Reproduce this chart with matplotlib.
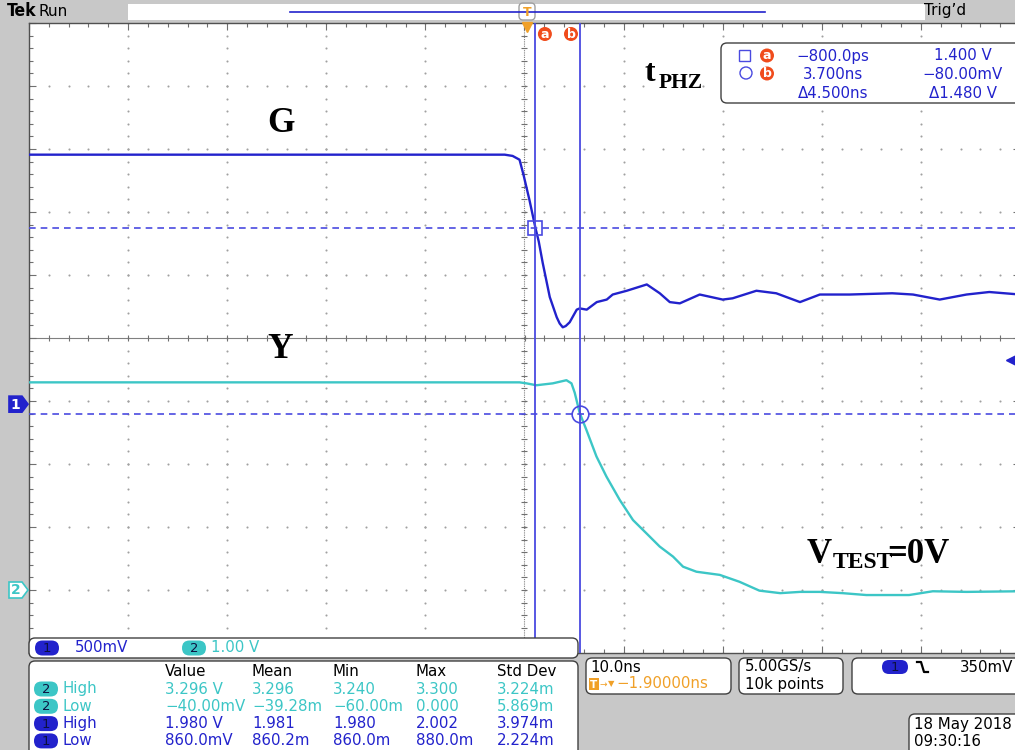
import numpy as np
import matplotlib
matplotlib.use("Agg")
import matplotlib.pyplot as plt
from matplotlib.patches import FancyBboxPatch, Rectangle, Circle, Polygon
from matplotlib.transforms import blended_transform_factory

W, H = 1015, 750
BG = "#c8c8c8"
CH1 = "#2222cc"
CH2 = "#3cc6c6"
CUR = "#4a4ae0"
ORANGE = "#f0a028"
CUR_TAG = "#f04c1c"
GRID = "#a0a0a0"
UI = "DejaVu Sans"
SERIF = "Liberation Serif"
FS = 10.8

# acquisition settings
TIME_PER_DIV = 10.0      # ns/div
H_DELAY = -1.9           # ns at screen centre
CH1_SCALE = 0.5          # V/div
CH2_SCALE = 1.0          # V/div
CH1_POS = -1.05          # div
CH2_POS = -4.0           # div
TRIG_LEVEL = 0.35        # V, falling edge on CH1

# CH1 (G) waveform, ns / V
g_time = [-51.9, -3.9, -3.1, -2.4, -2.0, -1.4, -0.8, -0.46, -0.06, 0.65,
          1.35, 1.65, 1.96, 2.26, 2.66, 3.37, 3.67, 4.38, 5.39, 6.40,
          7.0, 8.42, 10.44, 11.75, 12.76, 13.77, 15.78, 18.1, 19.1, 21.5,
          23.5, 25.9, 27.9, 30.9, 35.2, 37.3, 40.0, 42.7, 45.0, 48.1]
g_volt = [1.98, 1.98, 1.97, 1.94, 1.82, 1.62, 1.40, 1.29, 1.12, 0.85,
          0.69, 0.64, 0.61, 0.62, 0.65, 0.75, 0.76, 0.75, 0.81, 0.83,
          0.87, 0.90, 0.95, 0.88, 0.81, 0.80, 0.87, 0.83, 0.84, 0.90,
          0.88, 0.81, 0.87, 0.87, 0.88, 0.87, 0.83, 0.87, 0.89, 0.87]

# CH2 (Y) waveform, ns / V
y_time = [-51.9, -2.4, -1.7, -0.7, 0.95, 2.33, 2.84, 3.17, 3.67, 4.35,
          5.36, 6.37, 7.71, 9.05, 10.4, 11.74, 13.09, 14.1, 15.45, 17.8,
          19.8, 21.8, 23.9, 25.9, 27.9, 30.2, 32.6, 34.6, 36.9, 39.3,
          42.7, 48.1]
y_volt = [3.296, 3.296, 3.28, 3.25, 3.28, 3.33, 3.28, 3.13, 2.81, 2.54,
          2.12, 1.80, 1.43, 1.11, 0.90, 0.69, 0.53, 0.37, 0.29, 0.24,
          0.13, -0.01, -0.05, -0.03, -0.03, -0.05, -0.08, -0.08, -0.08, -0.02,
          -0.03, -0.02]

# cursors (a, b): time in ns, level in V on CH1
cursor_time = [-0.8, 3.7]
cursor_volt = [1.400, -0.080]

meas_header = ["Value", "Mean", "Min", "Max", "Std Dev"]
meas_channel = ["2", "2", "1", "1"]
meas_kind = ["High", "Low", "High", "Low"]
meas_values = [
    ["3.296 V", "3.296", "3.240", "3.300", "3.224m"],
    ["\u221240.00mV", "\u221239.28m", "\u221260.00m", "0.000", "5.869m"],
    ["1.980 V", "1.981", "1.980", "2.002", "3.974m"],
    ["860.0mV", "860.2m", "860.0m", "880.0m", "2.224m"],
]

fig = plt.figure(figsize=(W / 100, H / 100), dpi=100, facecolor=BG)

# ---- graticule: 10 x 10 divisions ----
GX0, GX1, GY0, GY1 = 29, 1020, 23, 653
ax = fig.add_axes([GX0 / W, 1 - GY1 / H, (GX1 - GX0) / W, (GY1 - GY0) / H])
t0 = H_DELAY - 5 * TIME_PER_DIV
t1 = H_DELAY + 5 * TIME_PER_DIV
ax.set_xlim(t0, t1)
ax.set_ylim(-5, 5)
ax.set_facecolor("white")

major_t = H_DELAY + TIME_PER_DIV * np.arange(-5, 6)
minor_t = H_DELAY + TIME_PER_DIV * np.arange(-5, 5.001, 0.2)
minor_d = np.arange(-5, 5.001, 0.2)
ax.set_xticks(major_t)
ax.set_xticks(minor_t, minor=True)
ax.set_yticks(np.arange(-5, 6))
ax.set_yticks(minor_d, minor=True)
ax.tick_params(which="both", direction="in", top=True, right=True,
               labelbottom=False, labelleft=False, color="#707070", width=0.8)
ax.tick_params(which="major", length=5)
ax.tick_params(which="minor", length=3)
for s in ax.spines.values():
    s.set_color("#505050")
    s.set_linewidth(1.0)

for k in range(-4, 5):
    if k == 0:
        continue
    tk = H_DELAY + k * TIME_PER_DIV
    ax.plot(np.full(minor_d.size, tk), minor_d, ls="none", marker="o",
            ms=1.5, mew=0, color=GRID, zorder=1)
    ax.plot(minor_t, np.full(minor_t.size, k), ls="none", marker="o",
            ms=1.5, mew=0, color=GRID, zorder=1)

ax.axhline(0, color="#808080", lw=0.8, zorder=1)
ax.axvline(H_DELAY, color="#808080", lw=0.8, ls=(0, (1, 1)), zorder=1)
ax.plot(minor_t, np.zeros_like(minor_t), ls="none", marker="|", ms=5,
        mew=0.8, color="#707070", zorder=1)
ax.plot(np.full(minor_d.size, H_DELAY), minor_d, ls="none", marker="_",
        ms=5, mew=0.8, color="#707070", zorder=1)

# ---- waveforms ----
g_div = np.array(g_volt) / CH1_SCALE + CH1_POS
y_div = np.array(y_volt) / CH2_SCALE + CH2_POS
ax.plot(y_time, y_div, color=CH2, lw=1.7, zorder=4, solid_joinstyle="round")
ax.plot(g_time, g_div, color=CH1, lw=1.7, zorder=5, solid_joinstyle="round")

# ---- cursors ----
cur_div = [v / CH1_SCALE + CH1_POS for v in cursor_volt]
for t in cursor_time:
    ax.axvline(t, color=CUR, lw=1.3, zorder=6)
for d in cur_div:
    ax.axhline(d, color=CUR, lw=1.2, ls=(0, (4, 3)), zorder=6)
ax.plot(cursor_time[0], cur_div[0], marker="s", ms=10, mfc="none", mec=CUR,
        mew=1.2, zorder=7)
ax.plot(cursor_time[1], cur_div[1], marker="o", ms=12, mfc="none", mec=CUR,
        mew=1.2, zorder=7)

# trigger level marker on the right edge
trans = blended_transform_factory(ax.transAxes, ax.transData)
ax.plot(0.992, TRIG_LEVEL / CH1_SCALE + CH1_POS, marker="<", ms=8, color=CH1,
        transform=trans, clip_on=False, zorder=8)

# ---- screen furniture in pixel coordinates ----
ov = fig.add_axes([0, 0, 1, 1], zorder=10)
ov.set_xlim(0, W)
ov.set_ylim(H, 0)
ov.axis("off")


def px_t(t):
    return GX0 + (t - t0) / (t1 - t0) * (GX1 - GX0)


def px_d(d):
    return GY0 + (5 - d) / 10 * (GY1 - GY0)


def txt(x, y, s, color="black", size=FS, ha="left", va="center", **kw):
    ov.text(x, y, s, color=color, fontsize=size, ha=ha, va=va,
            family=kw.pop("family", UI), **kw)


def box(x0, y0, x1, y1, r=6, ec="#404040"):
    ov.add_patch(FancyBboxPatch((x0, y0), x1 - x0, y1 - y0,
                                boxstyle=f"round,pad=0,rounding_size={r}",
                                fc="white", ec=ec, lw=1.0))


def pill(cx, cy, label, fc, w=24, h=15, tcol="#0c1040"):
    ov.add_patch(FancyBboxPatch((cx - w / 2, cy - h / 2), w, h,
                                boxstyle=f"round,pad=0,rounding_size={h / 2}",
                                fc=fc, ec="none"))
    txt(cx, cy + 0.5, label, color=tcol, size=9.5, ha="center")


def tag(cx, cy, label):
    ov.add_patch(Circle((cx, cy), 7, fc=CUR_TAG, ec="none"))
    txt(cx, cy, label, color="white", size=9, ha="center", weight="bold")


# top status bar
ov.add_patch(Rectangle((128, 4), 797, 16, fc="white", ec="none"))
ov.plot([290, 765], [11.5, 11.5], color=CH1, lw=1.2)
ov.add_patch(FancyBboxPatch((519, 3), 16, 17, boxstyle="round,pad=0,rounding_size=4",
                            fc="none", ec="#a0a0a0", lw=1.0))
txt(527, 12, "T", color=ORANGE, size=9, ha="center", weight="bold")
ov.plot([527], [27], marker="v", ms=7, color=ORANGE)
txt(7, 11, "Tek", size=12.5, weight="bold", stretch="condensed")
txt(39, 11, "Run", size=11)
txt(924, 11, "Trig\u2019d", size=11)

# cursor tags above the graticule
ax_a = px_t(cursor_time[0])
ax_b = px_t(cursor_time[1])
tag(ax_a + 9.5, 34, "a")
tag(ax_b - 9, 34, "b")

# channel ground markers
for pos, lab, fc, ec, tc in [(CH1_POS, "1", CH1, CH1, "white"),
                             (CH2_POS, "2", "white", CH2, CH2)]:
    yc = px_d(pos)
    ov.add_patch(Polygon([(9, yc - 8), (22, yc - 8), (28, yc), (22, yc + 8),
                          (9, yc + 8)], closed=True, fc=fc, ec=ec, lw=1.2))
    txt(15.5, yc + 0.5, lab, color=tc, size=10, ha="center", weight="bold")

# cursor readout
box(721, 43, 1040, 103)
ov.add_patch(Rectangle((739, 50), 11, 11, fc="none", ec=CUR, lw=1.0))
ov.add_patch(Circle((746, 73), 6, fc="none", ec=CUR, lw=1.0))
tag(767, 55.5, "a")
tag(767, 73.5, "b")


def fmt_time(t):
    s = f"{t * 1000:.1f}ps" if abs(t) < 1 else f"{t:.3f}ns"
    return s.replace("-", "\u2212")


def fmt_volt(v):
    s = f"{v * 1000:.2f}mV" if abs(v) < 1 else f"{v:.3f} V"
    return s.replace("-", "\u2212")


dt = cursor_time[1] - cursor_time[0]
dv = abs(cursor_volt[0] - cursor_volt[1])
for row, (tstr, vstr) in enumerate([(fmt_time(cursor_time[0]), fmt_volt(cursor_volt[0])),
                                    (fmt_time(cursor_time[1]), fmt_volt(cursor_volt[1])),
                                    (f"\u0394{dt:.3f}ns", f"\u0394{dv:.3f} V")]):
    yy = 56 + 18.5 * row
    txt(833, yy, tstr, color=CH1, ha="center")
    txt(963, yy, vstr, color=CH1, ha="center")

# vertical scale readout
box(29, 638, 578, 658)
pill(47, 648, "1", CH1)
txt(75, 648, f"{CH1_SCALE * 1000:.0f}mV", color=CH1)
pill(194, 648, "2", CH2)
txt(211, 648, f"{CH2_SCALE:.2f} V", color=CH2)

# measurement table
box(29, 661, 578, 770)
cols = [165, 252, 333, 416, 497]
for cx, head in zip(cols, meas_header):
    txt(cx, 671, head)
for i in range(4):
    yy = 689 + 17.3 * i
    col = CH1 if meas_channel[i] == "1" else CH2
    pill(46, yy, meas_channel[i], col)
    txt(63, yy, meas_kind[i], color=col)
    for cx, val in zip(cols, meas_values[i]):
        txt(cx, yy, val, color=col)

# horizontal readout
box(586, 658, 731, 694)
txt(590, 667, f"{TIME_PER_DIV:.1f}ns")
ov.add_patch(Rectangle((589, 678), 10, 12, fc=ORANGE, ec="none"))
txt(594, 684.5, "T", color="white", size=7.5, ha="center", weight="bold")
txt(599.5, 684, "\u2192", color=ORANGE, size=6.5)
txt(608, 684, "\u25bc", color=ORANGE, size=6)
txt(616, 684, f"{H_DELAY:.5f}ns".replace("-", "\u2212"), color=ORANGE)

# acquisition readout
box(739, 658, 843, 694)
txt(745, 667, "5.00GS/s")
txt(745, 684, "10k points")

# trigger readout
box(852, 658, 1040, 694)
pill(895, 667, "1", CH1, w=26, h=14)
ov.plot([917, 921, 924, 928], [662, 662, 672, 672], color="black", lw=1.6)
txt(960, 667, f"{TRIG_LEVEL * 1000:.0f}mV")

# date stamp
box(909, 714, 1040, 770)
txt(914, 725, "18 May 2018")
txt(914, 741, "09:30:16")

# signal annotations
txt(267, 132, "G", size=25.5, va="baseline", weight="bold", family=SERIF)
txt(267, 358, "Y", size=25.5, va="baseline", weight="bold", family=SERIF)
txt(645, 81, "t", size=23, va="baseline", weight="bold", family=SERIF)
txt(659, 88, "PHZ", size=15.5, va="baseline", weight="bold", family=SERIF)
txt(807, 563, "V", size=25, va="baseline", weight="bold", family=SERIF)
txt(833, 568, "TEST", size=17, va="baseline", weight="bold", family=SERIF)
txt(887, 563, "=0V", size=25, va="baseline", weight="bold", family=SERIF)

fig.savefig("out.png", dpi=100, facecolor=BG)
